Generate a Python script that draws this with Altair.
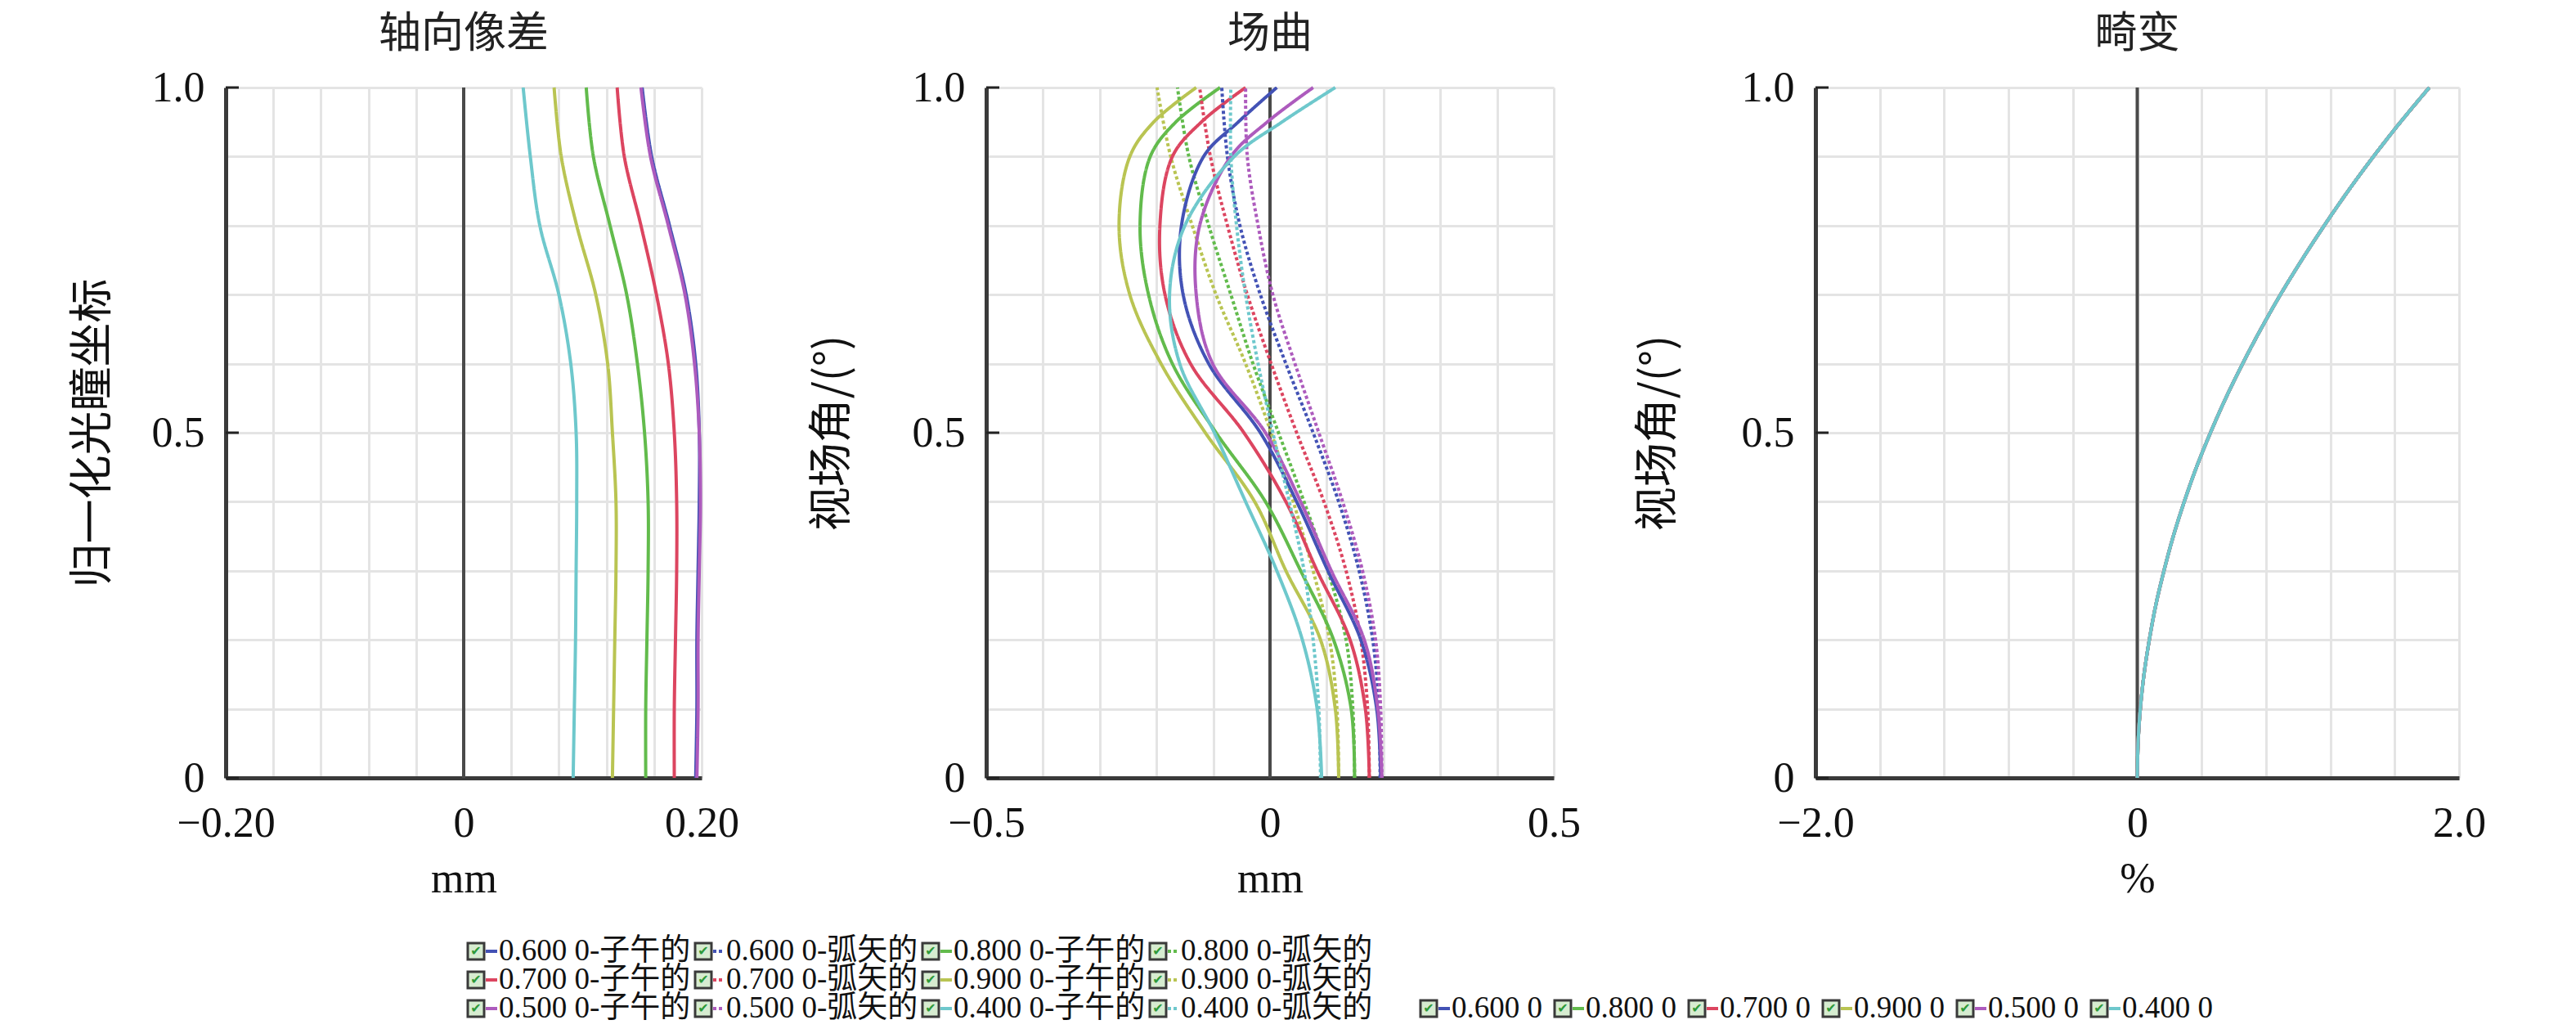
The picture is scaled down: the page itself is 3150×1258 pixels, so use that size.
import altair as alt
import pandas as pd

# wavelengths (um) and their colours, in legend order
waves = ["0.600 0", "0.800 0", "0.700 0", "0.900 0", "0.500 0", "0.400 0"]
colors = ["#4352b5", "#62bb4c", "#dc4560", "#b9c452", "#ad5bbd", "#6ec8cc"]

# --- axial aberration (mm) vs normalised pupil ---
pupil = [0, 0.1, 0.2, 0.3, 0.4, 0.5, 0.6, 0.7, 0.8, 0.9, 1.0]
axial = {
    "0.500 0": [0.196, 0.197, 0.197, 0.198, 0.199, 0.198, 0.194, 0.186, 0.172, 0.157, 0.149],
    "0.600 0": [0.195, 0.196, 0.196, 0.197, 0.198, 0.198, 0.195, 0.187, 0.173, 0.158, 0.150],
    "0.700 0": [0.177, 0.177, 0.178, 0.179, 0.179, 0.177, 0.172, 0.162, 0.149, 0.135, 0.129],
    "0.800 0": [0.153, 0.153, 0.154, 0.155, 0.155, 0.152, 0.146, 0.137, 0.123, 0.109, 0.103],
    "0.900 0": [0.125, 0.126, 0.127, 0.128, 0.128, 0.125, 0.121, 0.111, 0.095, 0.082, 0.076],
    "0.400 0": [0.092, 0.093, 0.094, 0.0945, 0.095, 0.0945, 0.090, 0.080, 0.064, 0.056, 0.050],
}

# --- field curvature (mm) vs field ---
field_t_y = [0, 0.1, 0.2, 0.3, 0.4, 0.5, 0.6, 0.7, 0.8, 0.9, 0.95, 1.0]
tangential = {
    "0.900 0": [0.121, 0.115, 0.089, 0.028, -0.027, -0.114, -0.192, -0.247, -0.266, -0.247, -0.205, -0.130],
    "0.800 0": [0.149, 0.143, 0.112, 0.054, -0.008, -0.095, -0.172, -0.214, -0.229, -0.211, -0.166, -0.088],
    "0.700 0": [0.175, 0.168, 0.141, 0.083, 0.028, -0.046, -0.140, -0.185, -0.194, -0.172, -0.121, -0.043],
    "0.600 0": [0.195, 0.188, 0.160, 0.102, 0.047, -0.017, -0.108, -0.153, -0.156, -0.117, -0.056, 0.012],
    "0.500 0": [0.197, 0.190, 0.166, 0.108, 0.054, -0.008, -0.101, -0.130, -0.124, -0.069, -0.005, 0.076],
    "0.400 0": [0.091, 0.083, 0.057, 0.012, -0.043, -0.098, -0.159, -0.177, -0.150, -0.063, 0.021, 0.115],
}
field_s_y = [0, 0.1, 0.2, 0.3, 0.4, 0.5, 0.6, 0.7, 0.8, 0.9, 1.0]
sagittal = {
    "0.900 0": [0.121, 0.118, 0.105, 0.076, 0.041, 0.002, -0.043, -0.095, -0.137, -0.175, -0.199],
    "0.800 0": [0.149, 0.146, 0.134, 0.102, 0.060, 0.015, -0.030, -0.069, -0.108, -0.143, -0.163],
    "0.700 0": [0.175, 0.172, 0.160, 0.134, 0.095, 0.047, 0.002, -0.040, -0.075, -0.105, -0.124],
    "0.600 0": [0.194, 0.192, 0.181, 0.157, 0.121, 0.076, 0.028, -0.017, -0.053, -0.075, -0.085],
    "0.500 0": [0.197, 0.195, 0.186, 0.163, 0.128, 0.086, 0.044, 0.005, -0.021, -0.040, -0.043],
    "0.400 0": [0.089, 0.086, 0.076, 0.060, 0.034, 0.005, -0.021, -0.043, -0.059, -0.069, -0.069],
}

# --- distortion (%) vs field, all wavelengths lie on top of each other ---
dist_y = [0, 0.05, 0.1, 0.15, 0.2, 0.25, 0.3, 0.35, 0.4, 0.45, 0.5,
          0.55, 0.6, 0.65, 0.7, 0.75, 0.8, 0.85, 0.9, 0.95, 1.0]
distortion = [0, 0.005, 0.019, 0.042, 0.075, 0.115, 0.166, 0.224, 0.292, 0.368, 0.455,
              0.550, 0.655, 0.768, 0.890, 1.022, 1.162, 1.310, 1.468, 1.636, 1.815]

# grid / tick values
ax_grid = [-0.2, -0.16, -0.12, -0.08, -0.04, 0, 0.04, 0.08, 0.12, 0.16, 0.2]
fc_grid = [-0.5, -0.4, -0.3, -0.2, -0.1, 0, 0.1, 0.2, 0.3, 0.4, 0.5]
di_grid = [-2.0, -1.6, -1.2, -0.8, -0.4, 0, 0.4, 0.8, 1.2, 1.6, 2.0]
y_grid = [0, 0.1, 0.2, 0.3, 0.4, 0.5, 0.6, 0.7, 0.8, 0.9, 1.0]
y_ticks = [0, 0.5, 1.0]

NUM_FONT = "Liberation Serif"
CJK_FONT = "Noto Sans CJK SC"
DARK = "#3a3a3a"
GRID = "#e4e4e4"

rows = []
for w in waves:
    for yy, xx in zip(pupil, axial[w]):
        rows.append(dict(panel="ax", wave=w, kind="子午", y=yy, x=xx))
    for yy, xx in zip(field_t_y, tangential[w]):
        rows.append(dict(panel="fc", wave=w, kind="子午", y=yy, x=xx))
    for yy, xx in zip(field_s_y, sagittal[w]):
        rows.append(dict(panel="fc", wave=w, kind="弧矢", y=yy, x=xx))
    for yy, xx in zip(dist_y, distortion):
        rows.append(dict(panel="di", wave=w, kind="子午", y=yy, x=xx))
df = pd.DataFrame(rows)

color_scale = alt.Scale(domain=waves, range=colors)
dash_scale = alt.Scale(domain=["子午", "弧矢"], range=[[1, 0], [4, 3]])
PH = 844


def panel(key, grid, fmt, title, ytitle, xtitle, width, order, ytitle_pad):
    x_lim = grid[-1]
    label_expr = (f"abs(datum.value) < 1e-9 ? '0' : abs(abs(datum.value) - {x_lim}) < 1e-9 ? "
                  f"format(datum.value, '{fmt}') : ''")
    x_enc = alt.X("x:Q", scale=alt.Scale(domain=[-x_lim, x_lim], nice=False, zero=False),
                  axis=alt.Axis(values=grid, labelExpr=label_expr, title=xtitle,
                                grid=True, gridColor=GRID, gridWidth=3,
                                domainColor=DARK, domainWidth=5, ticks=False, tickSize=0,
                                labelFont=NUM_FONT, labelFontSize=52, labelColor="#111",
                                labelPadding=30, labelFlush=False,
                                titleFont=NUM_FONT, titleFontSize=52, titleFontWeight="normal",
                                titleColor="#111", titlePadding=17))
    y_enc = alt.Y("y:Q", scale=alt.Scale(domain=[0, 1], nice=False),
                  axis=alt.Axis(values=y_grid,
                                labelExpr="datum.value == 0 ? '0' : (abs(datum.value - 0.5) < 1e-9 || abs(datum.value - 1) < 1e-9) ? format(datum.value, '.1f') : ''",
                                title=ytitle, grid=True, gridColor=GRID, gridWidth=3,
                                domainColor=DARK, domainWidth=5, ticks=False, tickSize=0,
                                labelFont=NUM_FONT, labelFontSize=52, labelColor="#111",
                                labelPadding=26, labelFlush=False,
                                titleFont=CJK_FONT, titleFontSize=54, titleFontWeight="normal",
                                titleColor="#111", titlePadding=ytitle_pad))
    sub = df[df.panel == key]
    layers = []
    zero = alt.Chart(pd.DataFrame({"x": [0]})).mark_rule(
        color="#4a4a4a", strokeWidth=4).encode(x=x_enc)
    layers.append(zero)
    for w in order:
        for kind in ["弧矢", "子午"]:
            part = sub[(sub.wave == w) & (sub.kind == kind)]
            if part.empty:
                continue
            layers.append(
                alt.Chart(part).mark_line(strokeWidth=4, interpolate="catmull-rom").encode(
                    x=x_enc, y=y_enc,
                    order="y:Q",
                    color=alt.Color("wave:N", scale=color_scale, legend=None),
                    strokeDash=alt.StrokeDash("kind:N", scale=dash_scale, legend=None),
                )
            )
    ticks = alt.Chart(pd.DataFrame({"y": y_ticks})).mark_rule(
        color="#222", strokeWidth=3).encode(y=y_enc, x=alt.value(0), x2=alt.value(16))
    layers.append(ticks)
    return alt.layer(*layers).properties(
        width=width, height=PH,
        title=alt.TitleParams(title, font=CJK_FONT, fontSize=52, fontWeight="normal",
                              color="#222", offset=12, anchor="middle"),
    )


p1 = panel("ax", ax_grid, ".2f", "轴向像差", "归一化光瞳坐标", "mm", 582,
           ["0.400 0", "0.900 0", "0.800 0", "0.700 0", "0.600 0", "0.500 0"], 44)
p2 = panel("fc", fc_grid, ".1f", "场曲", "视场角/(°)", "mm", 694,
           ["0.900 0", "0.800 0", "0.700 0", "0.600 0", "0.500 0", "0.400 0"], 70)
p3 = panel("di", di_grid, ".1f", "畸变", "视场角/(°)", "%", 787,
           ["0.600 0", "0.800 0", "0.700 0", "0.900 0", "0.500 0", "0.400 0"], 74)


def spacer(w, h):
    return alt.Chart(pd.DataFrame({"v": [0]})).mark_point(opacity=0).encode(
        x=alt.X("v:Q", axis=None), y=alt.Y("v:Q", axis=None)
    ).properties(width=w, height=h)


# --- legend block (drawn by hand to mimic the checkbox legend) ---
leg_rows = []
field_order = [["0.600 0", "0.800 0"], ["0.700 0", "0.900 0"], ["0.500 0", "0.400 0"]]
for r, pair in enumerate(field_order):
    c = 0
    for w in pair:
        for kind, word in [("子午", "子午的"), ("弧矢", "弧矢的")]:
            leg_rows.append(dict(px=296 + 278 * c, py=25 + 35 * r, wave=w, kind=kind,
                                 label=f"{w}-{word}"))
            c += 1
for i, w in enumerate(waves):
    leg_rows.append(dict(px=1461 + 164 * i, py=25 + 35 * 2, wave=w, kind="子午", label=w))
leg = pd.DataFrame(leg_rows)
leg["box"] = leg.px + 10
leg["l1"] = leg.px + 22
leg["l2"] = leg.px + 36
leg["tx"] = leg.px + 38

LW, LH = 2500, 110
lx = alt.Scale(domain=[0, LW], range=[0, LW], nice=False, zero=False)
ly = alt.Scale(domain=[0, LH], range=[0, LH], nice=False, zero=False)
lbase = alt.Chart(leg)
box = lbase.mark_square(size=400, fill="#d6ecd0", stroke="#3a3a3a", strokeWidth=3,
                        opacity=1).encode(
    x=alt.X("box:Q", scale=lx, axis=None), y=alt.Y("py:Q", scale=ly, axis=None))
check = lbase.mark_text(text="✔", color="#2e9a3a", font="DejaVu Sans", fontSize=16,
                        baseline="middle", align="center").encode(
    x=alt.X("box:Q", scale=lx, axis=None), y=alt.Y("py:Q", scale=ly, axis=None))
sym = lbase.mark_rule(strokeWidth=4).encode(
    x=alt.X("l1:Q", scale=lx, axis=None), x2="l2:Q",
    y=alt.Y("py:Q", scale=ly, axis=None),
    color=alt.Color("wave:N", scale=color_scale, legend=None),
    strokeDash=alt.StrokeDash("kind:N", scale=dash_scale, legend=None))
txt = lbase.mark_text(align="left", baseline="middle", fontSize=37, color="#111",
                      font=f"{NUM_FONT}, {CJK_FONT}").encode(
    x=alt.X("tx:Q", scale=lx, axis=None), y=alt.Y("py:Q", scale=ly, axis=None),
    text="label:N")
# width kept tiny so the grid column of panel 1 keeps its size; marks overflow to the right
legend_chart = alt.layer(box, check, sym, txt).properties(width=1, height=LH)

# gaps between plot areas: 348 and 320 px (spacing 100 on both sides of a spacer)
chart = alt.concat(
    p1, spacer(148, PH), p2, spacer(120, PH), p3,
    legend_chart,
    columns=5, spacing={"row": 187, "column": 100}, bounds="flush",
).properties(
    padding={"left": 79, "top": 8, "right": 10, "bottom": 0}
).configure(background="white").configure_view(stroke=None)

chart.save("out.html", embed_options={"renderer": "svg", "actions": False})
